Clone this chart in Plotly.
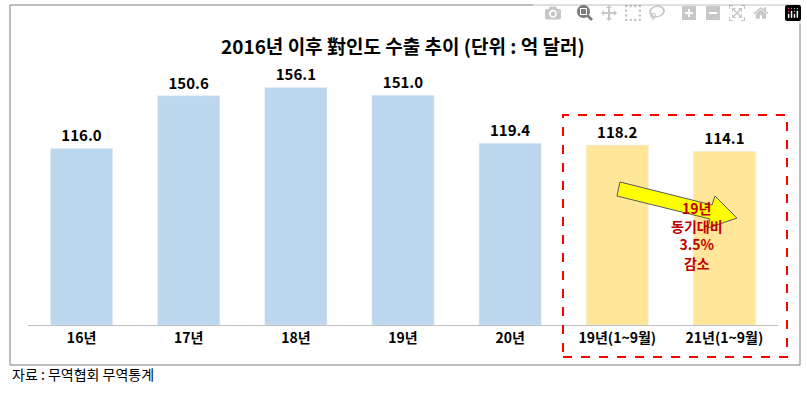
import plotly.graph_objects as go

cats = ["16년", "17년", "18년", "19년", "20년", "19년(1~9월)", "21년(1~9월)"]
vals = [116.0, 150.6, 156.1, 151.0, 119.4, 118.2, 114.1]
colors = ["#BDD7EE"] * 5 + ["#FFE699"] * 2

W, H = 807, 411
L, R, T, B = 28, 778, 51, 325  # plot area in pixels


def px(x):
    return (x - L) / (R - L)


def py(y):
    return (B - y) / (B - T)


fig = go.Figure(go.Bar(
    x=cats, y=vals, marker_color=colors, width=0.58,
    text=[f"<b>{v:.1f}</b>" for v in vals], textposition="outside",
    textfont=dict(size=15, color="black", family="Noto Sans CJK KR"),
    cliponaxis=False,
))

# arrow polygon (pixel coords -> paper)
pts = [(620, 182), (712, 205), (715, 196), (737, 218), (708, 228), (710, 219), (617, 196)]
path = "M " + " L ".join(f"{px(a):.4f},{py(b):.4f}" for a, b in pts) + " Z"

fig.update_layout(
    width=W, height=H,
    margin=dict(l=L, r=W - R, t=T, b=H - B),
    plot_bgcolor="white", paper_bgcolor="white",
    showlegend=False,
    font=dict(family="Noto Sans CJK KR", color="black"),
    xaxis=dict(showline=True, linecolor="#BFBFBF", ticks="",
               tickvals=cats, ticktext=[f"<b>{c}</b>" for c in cats],
               tickfont=dict(size=14, color="black")),
    yaxis=dict(visible=False, range=[0, 180]),
    shapes=[
        dict(type="rect", xref="paper", yref="paper",
             x0=px(10), x1=px(800), y0=py(365), y1=py(5),
             line=dict(color="#7F7F7F", width=1)),
        dict(type="rect", xref="paper", yref="paper",
             x0=px(563), x1=px(787), y0=py(357), y1=py(115),
             line=dict(color="#FF0000", width=2, dash="dash")),
        dict(type="path", xref="paper", yref="paper", path=path,
             fillcolor="#FFFF00", line=dict(color="#595959", width=1)),
    ],
    annotations=[
        dict(text="<b>2016년 이후 對인도 수출 추이 (단위 : 억 달러)</b>",
             xref="paper", yref="paper", x=px(403), y=py(30),
             showarrow=False, font=dict(size=19)),
        dict(text="<b>19년<br>동기대비<br>3.5%<br>감소</b>",
             xref="paper", yref="paper", x=px(725), y=py(275),
             showarrow=False, font=dict(size=14, color="#C00000")),
        dict(text="자료 : 무역협회 무역통계", xref="paper", yref="paper",
             x=px(10), y=py(386), xanchor="left", showarrow=False,
             font=dict(size=14)),
    ],
)

fig.write_html("out.html", post_script="document.body.style.margin='0';")
